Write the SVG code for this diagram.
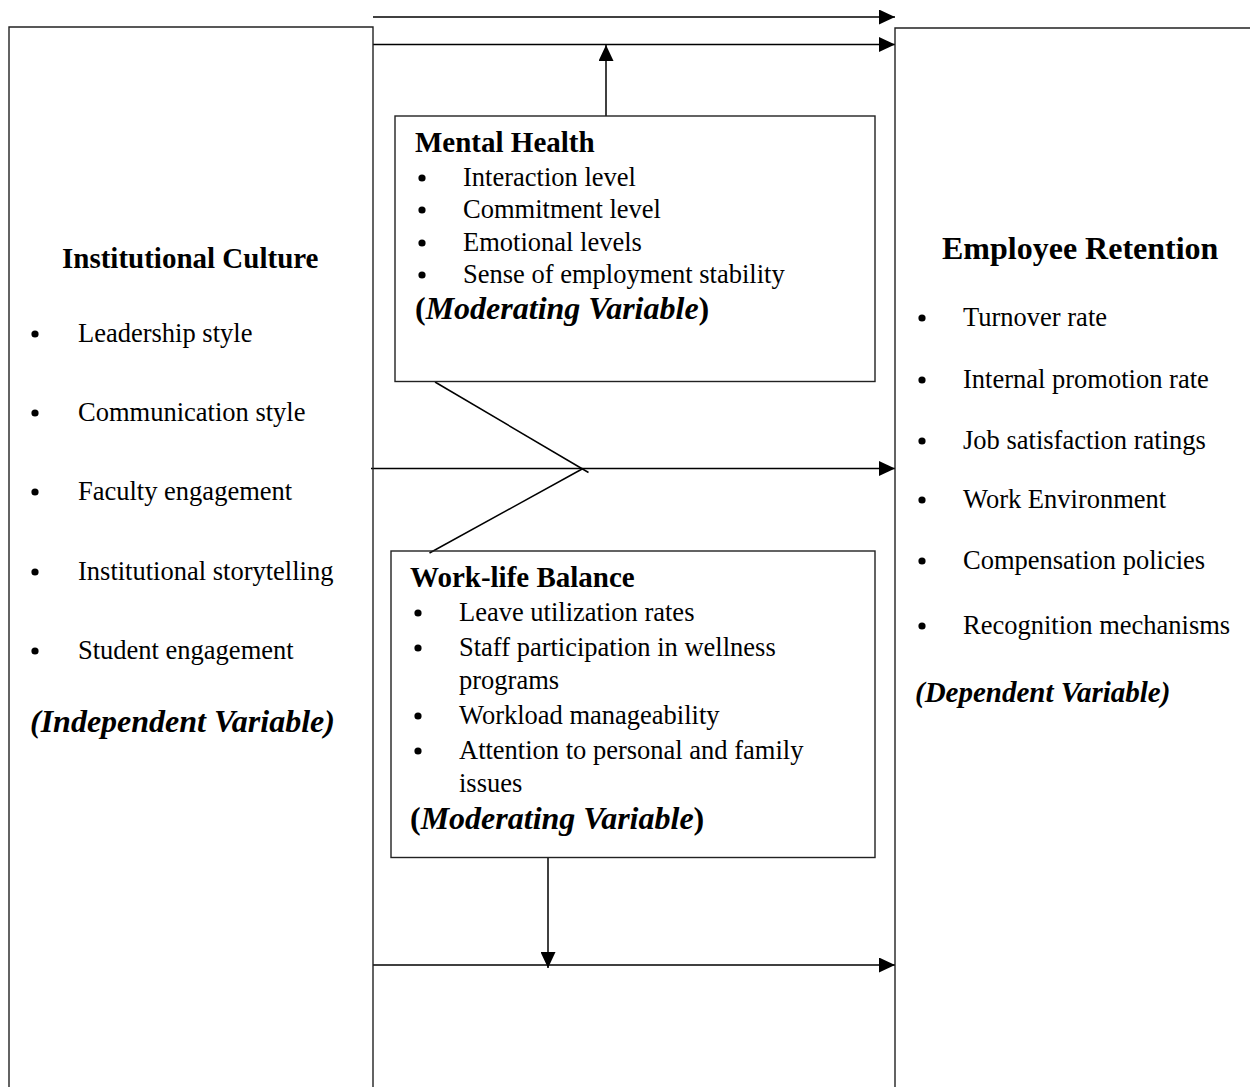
<svg xmlns="http://www.w3.org/2000/svg" width="1250" height="1087" viewBox="0 0 1250 1087">
<defs>
<style>
.box{fill:none;stroke:#222;stroke-width:1.4}
.con{fill:none;stroke:#000;stroke-width:1.5}
.head{fill:#000}
.dot{fill:#000}
text{font-family:"Liberation Serif","Times New Roman",serif;fill:#000}
.r{font-size:26.5px}
.h{font-size:29px;font-weight:bold}
.hl{font-size:32px;font-weight:bold}
.bi{font-weight:bold;font-style:italic}
</style>
<marker id="ah" viewBox="0 0 16 15" refX="16" refY="7.5" markerWidth="16" markerHeight="15" markerUnits="userSpaceOnUse" orient="auto">
<path d="M0,0 L16,7.5 L0,15 Z" class="head"/>
</marker>
</defs>
<rect width="1250" height="1087" fill="#fff"/>

<g id="connectors">
<line class="con" x1="373" y1="17" x2="895" y2="17" marker-end="url(#ah)"/>
<line class="con" x1="373" y1="44.5" x2="895" y2="44.5" marker-end="url(#ah)"/>
<line class="con" x1="606" y1="116" x2="606" y2="45" marker-end="url(#ah)"/>
<line class="con" x1="371" y1="468.5" x2="895" y2="468.5" marker-end="url(#ah)"/>
<line class="con" x1="435" y1="382" x2="588.5" y2="472.5" stroke-width="1.2"/>
<line class="con" x1="429.5" y1="553" x2="583" y2="468.5" stroke-width="1.2"/>
<line class="con" x1="548" y1="858" x2="548" y2="968" marker-end="url(#ah)"/>
<line class="con" x1="373" y1="965" x2="895" y2="965" marker-end="url(#ah)"/>
</g>

<g id="institutional-culture">
<path class="box" d="M9,1090 L9,27 L373,27 L373,1090"/>
<text class="h" x="62" y="268">Institutional Culture</text>
<circle class="dot" cx="35" cy="334" r="3.6"/><text class="r" x="78" y="342">Leadership style</text>
<circle class="dot" cx="35" cy="413" r="3.6"/><text class="r" x="78" y="421">Communication style</text>
<circle class="dot" cx="35" cy="492" r="3.6"/><text class="r" x="78" y="500">Faculty engagement</text>
<circle class="dot" cx="35" cy="572" r="3.6"/><text class="r" x="78" y="580">Institutional storytelling</text>
<circle class="dot" cx="35" cy="651" r="3.6"/><text class="r" x="78" y="659">Student engagement</text>
<text class="hl bi" x="30" y="732">(Independent Variable)</text>
</g>

<g id="mental-health">
<rect class="box" x="395" y="116" width="480" height="265.5"/>
<text class="h" x="415" y="152">Mental Health</text>
<circle class="dot" cx="422" cy="178" r="3.6"/><text class="r" x="463" y="186">Interaction level</text>
<circle class="dot" cx="422" cy="210" r="3.6"/><text class="r" x="463" y="218">Commitment level</text>
<circle class="dot" cx="422" cy="243" r="3.6"/><text class="r" x="463" y="251">Emotional levels</text>
<circle class="dot" cx="422" cy="275" r="3.6"/><text class="r" x="463" y="283">Sense of employment stability</text>
<text class="hl" x="415" y="319">(<tspan font-style="italic">Moderating Variable</tspan>)</text>
</g>

<g id="work-life-balance">
<rect class="box" x="391" y="551" width="484" height="306.5"/>
<text class="h" x="410" y="587">Work-life Balance</text>
<circle class="dot" cx="418" cy="613" r="3.6"/><text class="r" x="459" y="621">Leave utilization rates</text>
<circle class="dot" cx="418" cy="648" r="3.6"/><text class="r" x="459" y="656">Staff participation in wellness</text>
<text class="r" x="459" y="689">programs</text>
<circle class="dot" cx="418" cy="716" r="3.6"/><text class="r" x="459" y="724">Workload manageability</text>
<circle class="dot" cx="418" cy="751" r="3.6"/><text class="r" x="459" y="759">Attention to personal and family</text>
<text class="r" x="459" y="792">issues</text>
<text class="hl" x="410" y="829">(<tspan font-style="italic">Moderating Variable</tspan>)</text>
</g>

<g id="employee-retention">
<path class="box" d="M895,1090 L895,28 L1255,28"/>
<text class="hl" x="942" y="259">Employee Retention</text>
<circle class="dot" cx="922" cy="318" r="3.6"/><text class="r" x="963" y="326">Turnover rate</text>
<circle class="dot" cx="922" cy="380" r="3.6"/><text class="r" x="963" y="388">Internal promotion rate</text>
<circle class="dot" cx="922" cy="441" r="3.6"/><text class="r" x="963" y="449">Job satisfaction ratings</text>
<circle class="dot" cx="922" cy="500" r="3.6"/><text class="r" x="963" y="508">Work Environment</text>
<circle class="dot" cx="922" cy="561" r="3.6"/><text class="r" x="963" y="569">Compensation policies</text>
<circle class="dot" cx="922" cy="626" r="3.6"/><text class="r" x="963" y="634">Recognition mechanisms</text>
<text class="h bi" x="915" y="702">(Dependent Variable)</text>
</g>
</svg>
